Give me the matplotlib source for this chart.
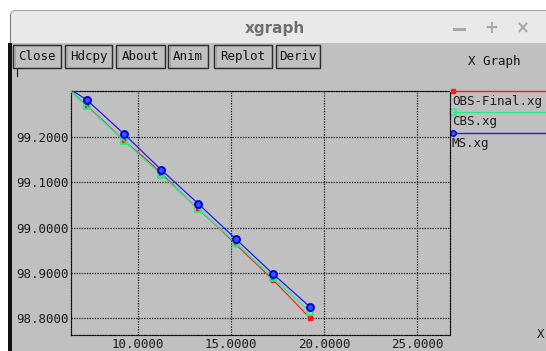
import matplotlib
matplotlib.use("Agg")
import matplotlib.pyplot as plt
from matplotlib.patches import Rectangle, FancyBboxPatch
from matplotlib.lines import Line2D

# ---------------- data ----------------
series_names = ["OBS-Final.xg", "CBS.xg", "MS.xg"]
obs_x = [5.25, 6.25, 7.25, 8.25, 9.25, 10.25, 11.25, 12.25, 13.25, 14.25, 15.25, 16.25, 17.25, 18.25, 19.25]
obs_y = [99.345, 99.306, 99.268, 99.231, 99.191, 99.157, 99.120, 99.079, 99.040, 99.003, 98.963, 98.924, 98.885, 98.843, 98.800]
cbs_x = [5.25, 7.25, 9.25, 11.25, 13.25, 15.25, 17.25, 19.25]
cbs_y = [99.344, 99.267, 99.191, 99.116, 99.041, 98.966, 98.889, 98.814]
ms_x = [5.25, 7.25, 9.25, 11.25, 13.25, 15.25, 17.25, 19.25]
ms_y = [99.334, 99.281, 99.206, 99.127, 99.052, 98.975, 98.898, 98.825]
x_ticks = [10, 15, 20, 25]
x_tick_labels = ["10.0000", "15.0000", "20.0000", "25.0000"]
y_ticks = [98.8, 98.9, 99.0, 99.1, 99.2]
y_tick_labels = ["98.8000", "98.9000", "99.0000", "99.1000", "99.2000"]
buttons = ["Close", "Hdcpy", "About", "Anim", "Replot", "Deriv"]

# ---------------- figure ----------------
W, H = 546, 351
fig = plt.figure(figsize=(W / 100, H / 100), dpi=100)
fig.patch.set_facecolor("white")

bg = fig.add_axes([0, 0, 1, 1], zorder=0)
bg.set_xlim(0, W)
bg.set_ylim(H, 0)
bg.axis("off")

MONO = "DejaVu Sans Mono"
BODY = "#c0c0c0"

# title bar
bg.add_patch(FancyBboxPatch((10.5, 10.5), W + 10, 40, boxstyle="round,pad=0,rounding_size=5",
                            facecolor="#e9e9e9", edgecolor="#a9a9a9", linewidth=0.8))
# window body
bg.add_patch(Rectangle((10, 43), W - 10, H - 43, facecolor=BODY, edgecolor="none"))
# left dark border
bg.add_patch(Rectangle((8, 43), 3.5, H - 43, facecolor="#111111", edgecolor="none"))
bg.add_patch(Rectangle((9.5, 14), 1.2, 29, facecolor="#7a7a7a", edgecolor="none"))

bg.text(275, 28, "xgraph", ha="center", va="center", fontsize=11, fontweight="bold",
        color="#6f6f6f", family="DejaVu Sans")
bg.add_line(Line2D([454, 464], [29, 29], color="#a8a8a8", linewidth=2.2))
for cx, s in [(491, "+"), (523, "\u00d7")]:
    bg.text(cx, 28, s, ha="center", va="center", fontsize=12, fontweight="bold",
            color="#a8a8a8", family="DejaVu Sans")

# buttons
btn_spans = [(13, 61), (65, 112), (116, 165), (168, 208), (214, 272), (276, 320)]
for name, (x0, x1) in zip(buttons, btn_spans):
    bg.add_patch(Rectangle((x0, 44.5), x1 - x0, 23.5, facecolor=BODY, edgecolor="#2a2a2a",
                           linewidth=1.0))
    bg.add_patch(Rectangle((x0 + 1.5, 46), x1 - x0 - 3, 20.5, facecolor="none",
                           edgecolor="#9a9a9a", linewidth=0.5))
    bg.text((x0 + x1) / 2, 56.5, name, ha="center", va="center", fontsize=9,
            family=MONO, color="#111111")
bg.text(494, 61, "X Graph", ha="center", va="center", fontsize=9, family=MONO,
        color="#111111")
bg.add_line(Line2D([16.5, 16.5], [69, 76], color="#111111", linewidth=0.8))
bg.text(541, 335, "X", ha="center", va="center", fontsize=9, family=MONO, color="#222222")

# ---------------- plot area ----------------
L, R, T, B = 71, 450, 91, 335
ax = fig.add_axes([L / W, (H - B) / H, (R - L) / W, (B - T) / H], zorder=2)
ax.set_facecolor("none")
ax.set_xlim(6.398, 26.774)
ax.set_ylim(98.7632, 99.3007)

dots = (0, (1.0, 1.2))
ax.set_xticks(x_ticks)
ax.set_xticklabels(x_tick_labels)
ax.set_yticks(y_ticks)
ax.set_yticklabels(y_tick_labels)
ax.grid(True, color="black", linestyle=dots, linewidth=0.85)
for sp in ax.spines.values():
    sp.set_linestyle(dots)
    sp.set_linewidth(0.85)
    sp.set_color("black")
ax.tick_params(axis="y", length=0, pad=1.6, labelsize=9, labelcolor="#1c1c1c")
ax.tick_params(axis="x", length=0, pad=2.2, labelsize=9, labelcolor="#1c1c1c")
for lab in ax.get_xticklabels() + ax.get_yticklabels():
    lab.set_family(MONO)

RED, GREEN, BLUE = "#ff1a1a", "#22ee88", "#1a1aff"
ax.plot(obs_x, obs_y, color=RED, linewidth=0.8, marker="s", markersize=2.8,
        markevery=slice(0, None, 2),
        markerfacecolor=RED, markeredgecolor=RED, zorder=3)
ax.plot(cbs_x, cbs_y, color=GREEN, linewidth=0.9, marker="s", markersize=5.0,
        markerfacecolor="none", markeredgecolor=GREEN, markeredgewidth=1.3, zorder=4)
ax.plot(ms_x, ms_y, color=BLUE, linewidth=0.9, marker="o", markersize=5.0,
        markerfacecolor="#3355ff", markeredgecolor="#0000dd", markeredgewidth=1.4, zorder=5)

# ---------------- legend ----------------
leg_styles = [
    (91, RED, dict(marker="s", markersize=2.8, markerfacecolor=RED, markeredgecolor=RED)),
    (112, GREEN, dict(marker="s", markersize=4.5, markerfacecolor="none", markeredgecolor=GREEN,
                      markeredgewidth=1.1)),
    (133, BLUE, dict(marker="o", markersize=4.0, markerfacecolor="#3355ff",
                     markeredgecolor="#0000dd", markeredgewidth=1.0)),
]
for name, (ly, col, mk) in zip(series_names, leg_styles):
    bg.add_line(Line2D([452.5, W], [ly, ly], color=col, linewidth=1.0))
    bg.add_line(Line2D([453], [ly], linestyle="none", **mk))
    bg.text(452, ly + 10, name, ha="left", va="center", fontsize=9, family=MONO,
            color="#1c1c1c")

fig.savefig("out.png", dpi=100, facecolor="white")
